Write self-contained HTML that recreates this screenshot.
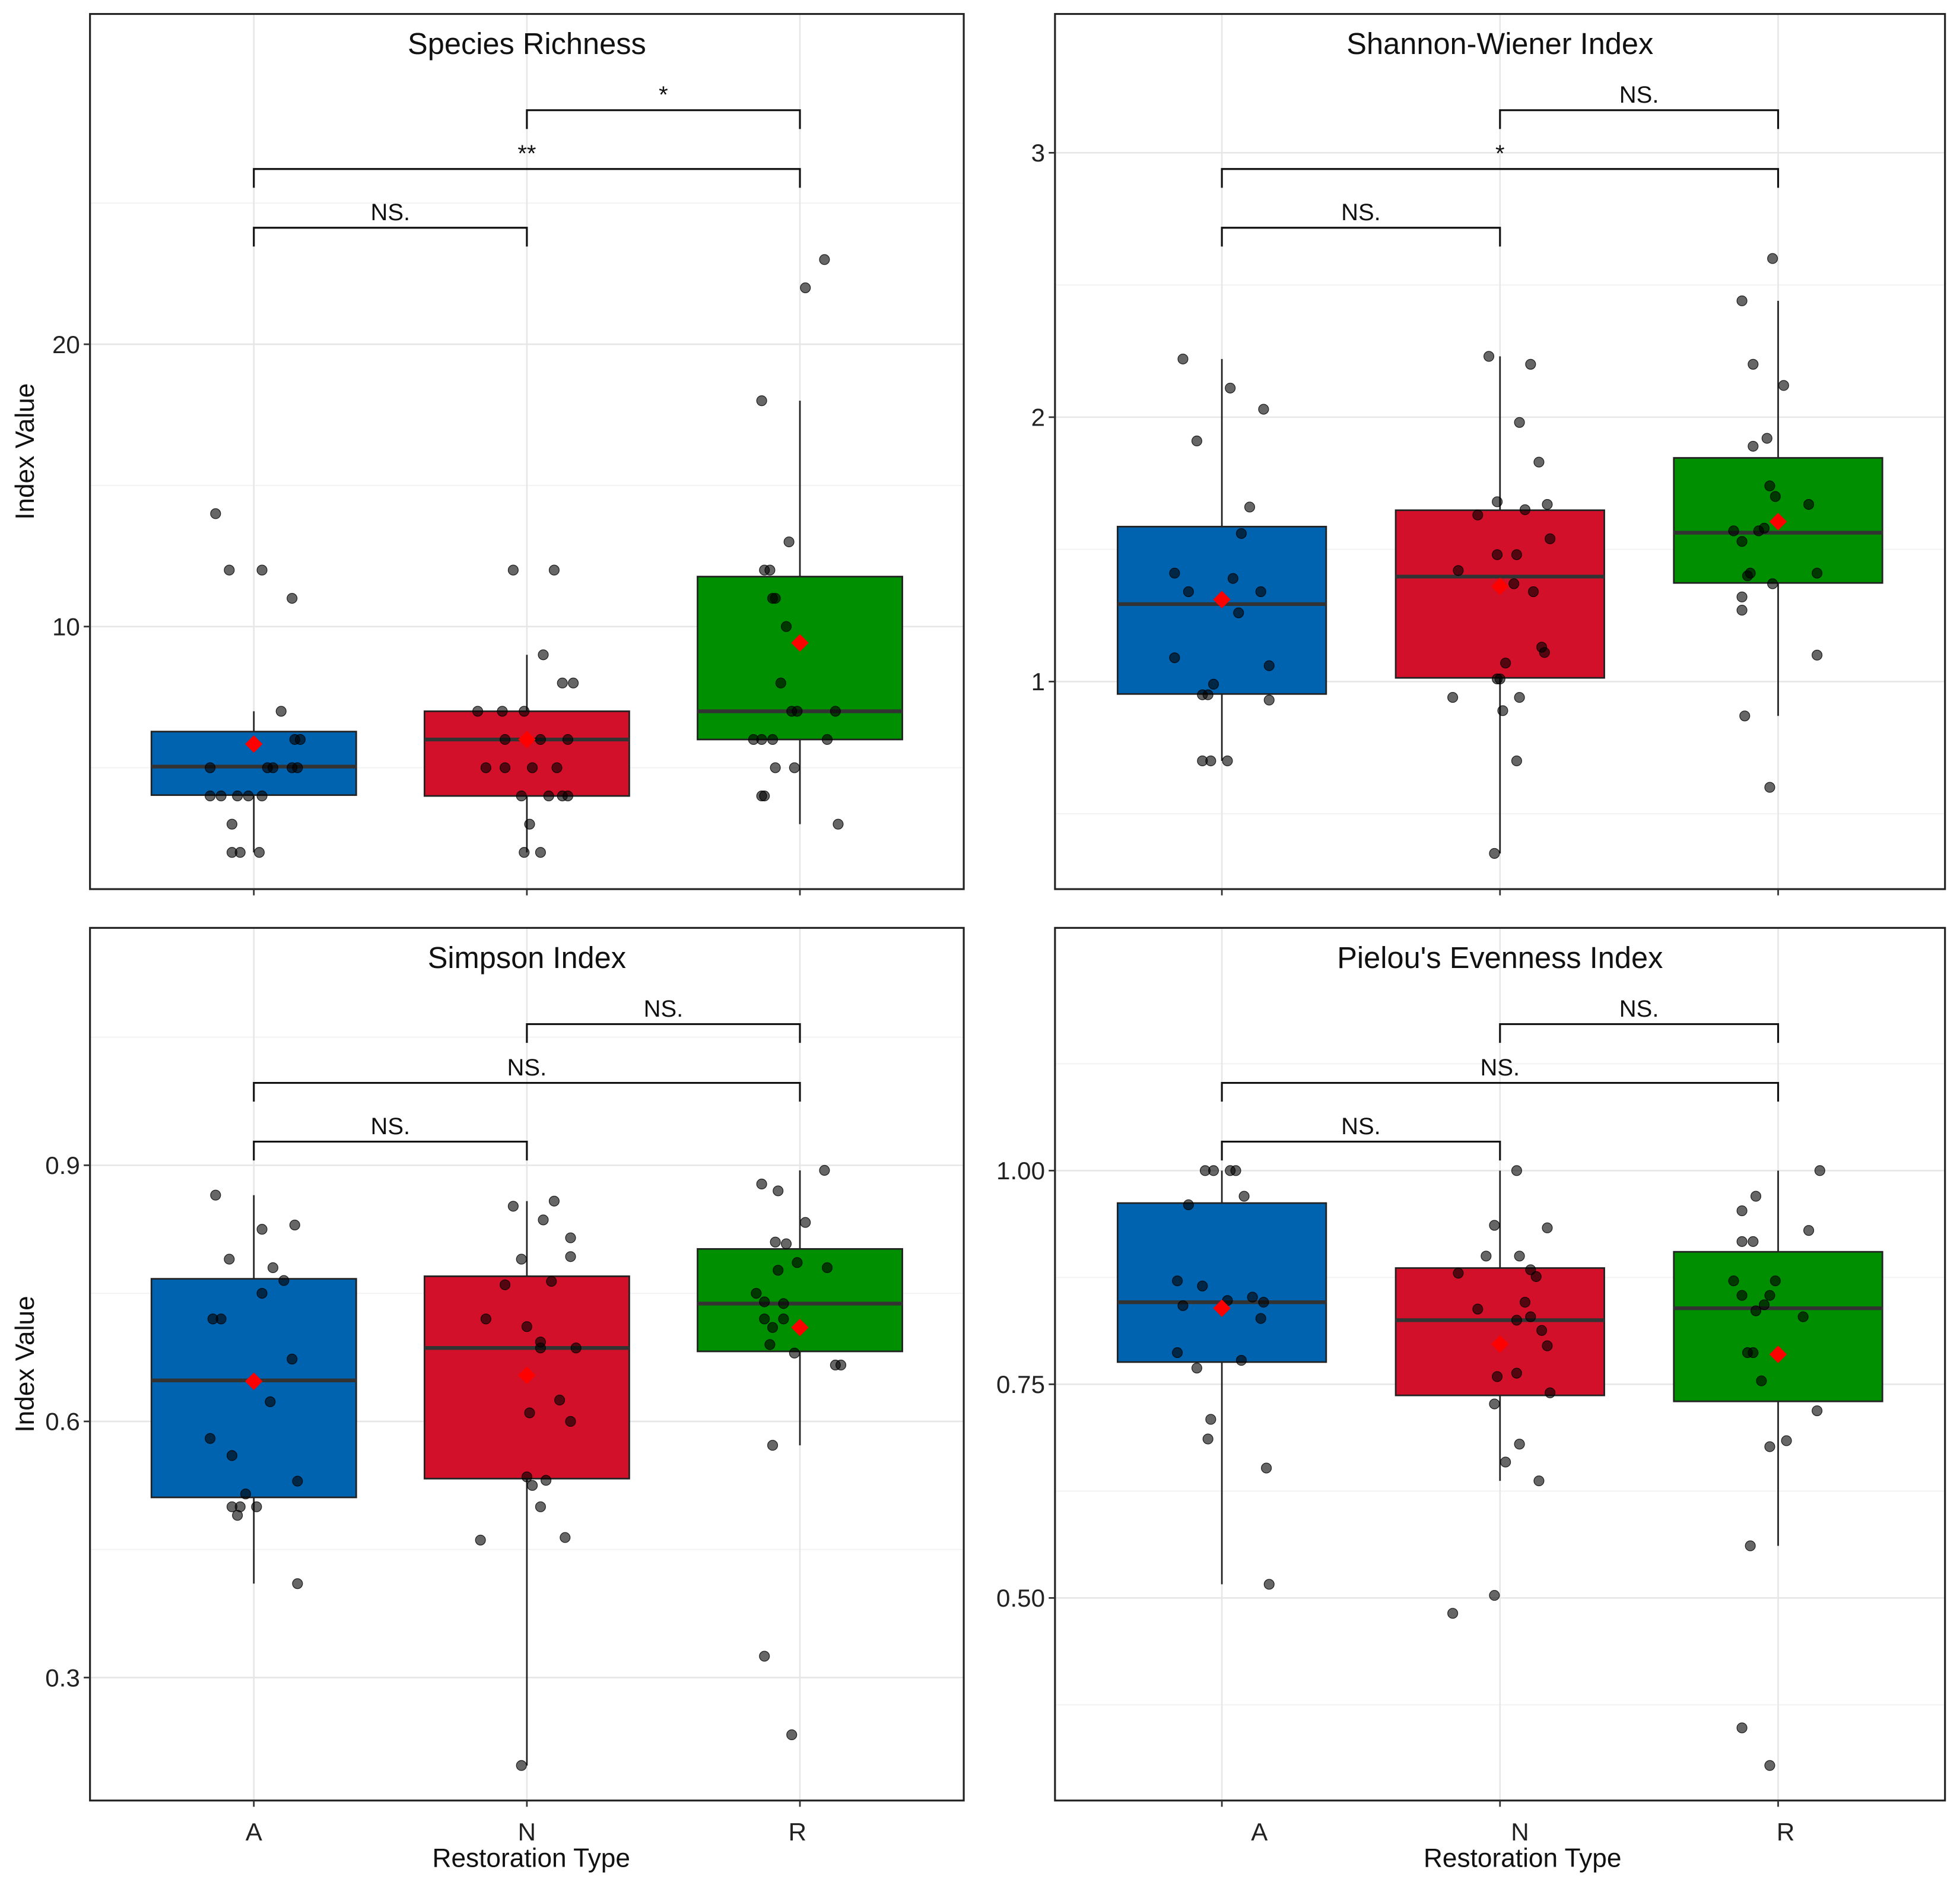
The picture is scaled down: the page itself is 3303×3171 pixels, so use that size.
<!DOCTYPE html>
<html><head><meta charset="utf-8">
<style>
html,body{margin:0;padding:0;background:#fff;}
svg{display:block;font-family:"Liberation Sans",Arial,sans-serif;}
</style></head>
<body>
<svg id="chart" width="3303" height="3171" viewBox="0 0 1568 1505" xmlns="http://www.w3.org/2000/svg">
<rect width="1568" height="1505" fill="#fff"/>
</svg>
<script>
const categories = ['A','N','R'];
const fillColors = ['#0063B0','#D3102A','#008F00'];

// Species Richness
const richTicks = [10,20];
const richMinor = [5,15,25];
const richPts = [
 [[-.14,14],[-.09,12],[.03,12],[.14,11],[.10,7],[.17,6],[.15,6],[-.16,5],[.05,5],[.07,5],[.14,5],[.16,5],[-.16,4],[-.12,4],[-.06,4],[-.02,4],[.03,4],[-.08,3],[-.08,2],[-.05,2],[.02,2]],
 [[-.05,12],[.10,12],[.06,9],[.13,8],[.17,8],[-.18,7],[-.09,7],[-.01,7],[-.15,5],[-.08,5],[.02,5],[.11,5],[-.08,6],[.05,6],[.15,6],[-.02,4],[.08,4],[.13,4],[.15,4],[.01,3],[-.01,2],[.05,2]],
 [[.09,23],[.02,22],[-.14,18],[-.04,13],[-.13,12],[-.11,12],[-.09,11],[-.10,11],[-.05,10],[-.07,8],[-.17,6],[-.14,6],[-.10,6],[.10,6],[-.03,7],[-.01,7],[.13,7],[-.09,5],[-.02,5],[-.14,4],[-.13,4],[.14,3]]
];
const richBox = [[2,4.03,5.04,6.28,7],[2,4,6,7,9],[3,6,7,11.77,18]];
const richMean = [5.84,6.0,9.42];
const richSig = ['NS.','**','*'];

// Shannon-Wiener
const shanTicks = [1,2,3];
const shanMinor = [0.5,1.5,2.5];
const shanPts = [
 [[-.14,2.22],[.03,2.11],[.15,2.03],[-.09,1.91],[.10,1.66],[.07,1.56],[-.17,1.41],[.04,1.39],[-.12,1.34],[.14,1.34],[.06,1.26],[-.17,1.09],[-.03,.99],[-.07,.95],[-.05,.95],[.17,1.06],[.17,.93],[-.07,.70],[-.04,.70],[.02,.70]],
 [[-.04,2.23],[.11,2.20],[.07,1.98],[.14,1.83],[-.01,1.68],[.17,1.67],[-.08,1.63],[.09,1.65],[.18,1.54],[-.15,1.42],[-.01,1.48],[.06,1.48],[.05,1.37],[.12,1.34],[.15,1.13],[.16,1.11],[.02,1.07],[-.01,1.01],[0,1.01],[-.17,.94],[.07,.94],[.01,.89],[.06,.70],[-.02,.35]],
 [[-.02,2.60],[-.13,2.44],[-.09,2.20],[.02,2.12],[-.04,1.92],[-.09,1.89],[-.03,1.74],[-.01,1.70],[.11,1.67],[-.16,1.57],[-.07,1.57],[-.05,1.58],[-.13,1.53],[-.10,1.41],[-.11,1.40],[.14,1.41],[-.02,1.37],[-.13,1.32],[-.13,1.27],[.14,1.10],[-.12,.87],[-.03,.60]]
];
const shanBox = [[0.70,0.953,1.293,1.586,2.22],[0.35,1.014,1.397,1.648,2.23],[0.87,1.373,1.563,1.846,2.44]];
const shanMean = [1.31,1.36,1.605];
const shanSig = ['NS.','*','NS.'];

// Simpson
const simpTicks = [0.3,0.6,0.9];
const simpMinor = [0.45,0.75,1.05];
const simpPts = [
 [[-.14,.865],[.15,.83],[.03,.825],[-.09,.79],[.07,.78],[.11,.765],[.03,.75],[-.15,.72],[-.12,.72],[.14,.673],[.06,.623],[-.16,.58],[-.08,.56],[.16,.53],[-.03,.515],[.01,.50],[-.08,.50],[-.05,.50],[-.06,.49],[.16,.41]],
 [[.10,.858],[-.05,.852],[.06,.836],[.16,.815],[-.02,.79],[.16,.793],[-.08,.76],[.09,.764],[-.15,.72],[0,.711],[.05,.693],[.05,.686],[.18,.686],[.12,.625],[.01,.61],[.16,.60],[0,.535],[.07,.531],[.02,.525],[.05,.50],[-.17,.461],[.14,.464],[-.02,.197]],
 [[-.14,.878],[.09,.894],[-.08,.87],[.02,.833],[-.09,.81],[-.05,.808],[-.01,.786],[.10,.78],[-.08,.777],[-.16,.75],[-.13,.74],[-.06,.738],[-.13,.72],[-.06,.72],[-.10,.71],[-.02,.68],[-.11,.69],[.13,.666],[.15,.666],[-.10,.572],[-.13,.325],[-.03,.233]]
];
const simpBox = [[0.41,0.511,0.648,0.767,0.865],[0.197,0.533,0.686,0.77,0.858],[0.572,0.682,0.738,0.802,0.894]];
const simpMean = [0.647,0.654,0.71];
const simpSig = ['NS.','NS.','NS.'];

// Pielou
const pielTicks = [0.5,0.75,1.0];
const pielTickLabels = ['0.50','0.75','1.00'];
const pielMinor = [0.375,0.625,0.875,1.125];
const pielPts = [
 [[-.06,1],[-.03,1],[.03,1],[.05,1],[.08,.97],[-.12,.96],[-.16,.871],[-.07,.865],[.11,.852],[-.14,.842],[.15,.846],[.02,.848],[.14,.827],[-.16,.787],[.07,.778],[-.09,.769],[-.04,.709],[-.05,.686],[.16,.652],[.17,.516]],
 [[.06,1],[-.02,.936],[.17,.933],[-.05,.90],[.07,.90],[-.15,.88],[.11,.884],[.13,.876],[.09,.846],[-.08,.838],[.11,.829],[.06,.825],[.15,.813],[.17,.795],[.06,.763],[-.01,.759],[.18,.74],[-.02,.727],[.07,.68],[.02,.659],[.14,.637],[-.02,.503],[-.17,.482]],
 [[.15,1],[-.08,.97],[-.13,.953],[.11,.93],[-.13,.917],[-.09,.917],[-.16,.871],[-.01,.871],[-.13,.854],[-.03,.854],[-.05,.843],[-.08,.836],[.09,.829],[-.11,.787],[-.09,.787],[-.06,.754],[.14,.719],[.03,.684],[-.03,.677],[-.10,.561],[-.13,.348],[-.03,.304]]
];
const pielBox = [[0.516,0.776,0.846,0.962,1.0],[0.637,0.737,0.825,0.886,1.0],[0.561,0.73,0.839,0.905,1.0]];
const pielMean = [0.839,0.797,0.785];
const pielSig = ['NS.','NS.','NS.'];

const NS='http://www.w3.org/2000/svg';
const svg=document.getElementById('chart');
function mk(tag,attrs,parent){const e=document.createElementNS(NS,tag);for(const k in attrs)e.setAttribute(k,attrs[k]);(parent||svg).appendChild(e);return e;}

const panels=[
 {key:'species-richness',title:'Species Richness',l:72,r:771,t:11,b:711,dmin:0.7,dmax:31.7,ticks:richTicks,labels:richTicks.map(String),minor:richMinor,pts:richPts,box:richBox,mean:richMean,sig:richSig,xlab:false,ylab:true,lblOff:[0,0,0],titleX:425},
 {key:'shannon-wiener',title:'Shannon-Wiener Index',l:844,r:1556,t:11,b:711,dmin:0.215,dmax:3.525,ticks:shanTicks,labels:shanTicks.map(String),minor:shanMinor,pts:shanPts,box:shanBox,mean:shanMean,sig:shanSig,xlab:false,ylab:false,lblOff:[0,0,0],titleX:1218},
 {key:'simpson',title:'Simpson Index',l:72,r:771,t:742,b:1440,dmin:0.156,dmax:1.178,ticks:simpTicks,labels:simpTicks.map(v=>v.toFixed(1)),minor:simpMinor,pts:simpPts,box:simpBox,mean:simpMean,sig:simpSig,xlab:true,ylab:true,lblOff:[0,0,-2],titleX:425},
 {key:'pielou',title:"Pielou's Evenness Index",l:844,r:1556,t:742,b:1440,dmin:0.263,dmax:1.284,ticks:pielTicks,labels:pielTickLabels,minor:pielMinor,pts:pielPts,box:pielBox,mean:pielMean,sig:pielSig,xlab:true,ylab:false,lblOff:[30,16,6],titleX:1218}
];

panels.forEach(p=>{
 const g=mk('g',{});
 
 
 const xs=c=>p.l+(c+1-0.4)*(p.r-p.l)/3.2;
 const ys=v=>p.b-(v-p.dmin)*(p.b-p.t)/(p.dmax-p.dmin);
 const unit=(p.r-p.l)/3.2;
 p.minor.forEach(v=>{const y=ys(v);if(y>p.t&&y<p.b){const e=mk('line',{x1:p.l,x2:p.r,y1:y,y2:y,stroke:'#f3f3f3','stroke-width':1},g);
  
  }});
 p.ticks.forEach(v=>{const y=ys(v);const e=mk('line',{x1:p.l,x2:p.r,y1:y,y2:y,stroke:'#e6e6e6','stroke-width':1.2},g);
  
  });
 categories.forEach((c,i)=>{const e=mk('line',{x1:xs(i),x2:xs(i),y1:p.t,y2:p.b,stroke:'#e6e6e6','stroke-width':1.2},g);
  
  });
 categories.forEach((c,i)=>{
  const [lo,q1,med,q3,hi]=p.box[i];const x=xs(i);const hw=0.375*unit;
  const w1=mk('line',{x1:x,x2:x,y1:ys(hi),y2:ys(q3),stroke:'#222','stroke-width':1.3},g);
  
  
  const w2=mk('line',{x1:x,x2:x,y1:ys(q1),y2:ys(lo),stroke:'#222','stroke-width':1.3},g);
  
  
  const r=mk('rect',{x:x-hw,y:ys(q3),width:2*hw,height:ys(q1)-ys(q3),fill:fillColors[i],stroke:'#222','stroke-width':1.3},g);
  
  
  const m=mk('line',{x1:x-hw,x2:x+hw,y1:ys(med),y2:ys(med),stroke:'#333','stroke-width':3},g);
  
  
 });
 p.pts.forEach((arr,i)=>{arr.forEach(([j,v])=>{
  const e=mk('circle',{cx:xs(i)+j*unit,cy:ys(v),r:4,fill:'rgba(0,0,0,0.6)',stroke:'rgba(0,0,0,0.8)','stroke-width':0.6},g);
  
  
 });});
 p.mean.forEach((v,i)=>{const x=xs(i),y=ys(v),s=7;
  const e=mk('polygon',{points:`${x},${y-s} ${x+s},${y} ${x},${y+s} ${x-s},${y}`,fill:'#FF0000'},g);
  
  
 });
 const br=[[0,1,171],[0,2,124],[1,2,77]];
 br.forEach(([a,b,off],k)=>{const y=p.t+off;const x1=xs(a),x2=xs(b);
  const e=mk('polyline',{points:`${x1},${y+15} ${x1},${y} ${x2},${y} ${x2},${y+15}`,fill:'none',stroke:'#111','stroke-width':1.5},g);
  
  
  const t=mk('text',{x:(x1+x2)/2,y:y-6,'text-anchor':'middle','font-size':19,fill:'#111'},g);
  t.textContent=p.sig[k];
  
  
 });
 const f=mk('rect',{x:p.l,y:p.t,width:p.r-p.l,height:p.b-p.t,fill:'none',stroke:'#222','stroke-width':1.5},g);
 
 
 const tt=mk('text',{x:(p.l+p.r)/2,y:p.t+32,'text-anchor':'middle','font-size':24,fill:'#111'},g);
 tt.textContent=p.title;
 
 
 p.ticks.forEach((v,k)=>{const y=ys(v);
  const tk=mk('line',{x1:p.l-5,x2:p.l,y1:y,y2:y,stroke:'#333','stroke-width':1.3},g);
  
  
  const t=mk('text',{x:p.l-8,y:y+7,'text-anchor':'end','font-size':20,fill:'#222'},g);
  t.textContent=p.labels[k];
  
  
 });
 categories.forEach((c,i)=>{
  const tk=mk('line',{x1:xs(i),x2:xs(i),y1:p.b,y2:p.b+5,stroke:'#333','stroke-width':1.3},g);
  
  
  if(p.xlab){const t=mk('text',{x:xs(i)+p.lblOff[i],y:p.b+32,'text-anchor':'middle','font-size':20,fill:'#222'},g);
   t.textContent=c;
   
   }
 });
 if(p.xlab){const t=mk('text',{x:p.titleX,y:1493,'text-anchor':'middle','font-size':21,fill:'#111'},g);
  t.textContent='Restoration Type';
  
  }
 if(p.ylab){const cy=(p.t+p.b)/2;const t=mk('text',{x:27,y:cy,'text-anchor':'middle','font-size':21,fill:'#111',transform:`rotate(-90 27 ${cy})`},g);
  t.textContent='Index Value';
  
  }
});
</script>
</body></html>
